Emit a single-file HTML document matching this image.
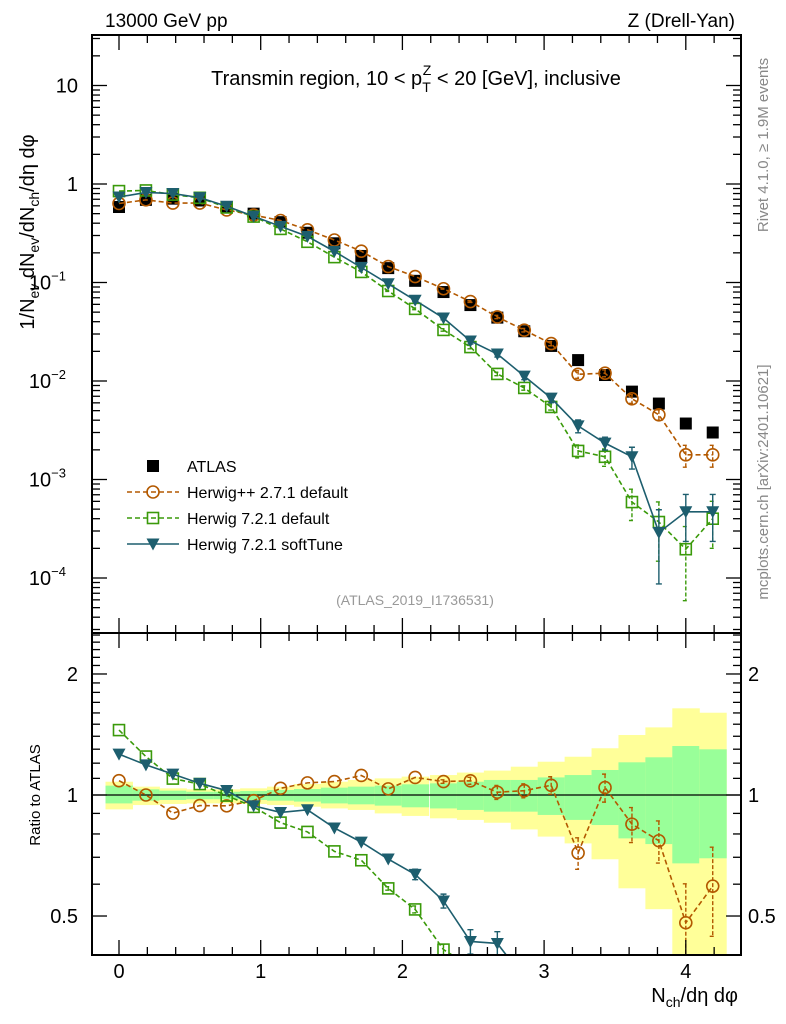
<!DOCTYPE html>
<html><head><meta charset="utf-8"><style>
html,body{margin:0;padding:0;background:#fff;overflow:hidden}
svg{display:block;font-family:"Liberation Sans",sans-serif}
</style></head><body>
<svg id="c" width="786" height="1024" viewBox="0 0 786 1024">
<defs>
<clipPath id="cm"><rect x="92" y="35" width="649" height="598"/></clipPath>
<clipPath id="cr"><rect x="92" y="633" width="649" height="322"/></clipPath>
</defs>
<g id="bands" clip-path="url(#cr)"></g>
<line x1="92" y1="795" x2="741" y2="795" stroke="#000" stroke-width="1.3"/>
<g id="mainMarks" clip-path="url(#cm)"></g>
<g id="ratioMarks" clip-path="url(#cr)"></g>
<rect x="92" y="35" width="649" height="598" fill="none" stroke="#000" stroke-width="2"/>
<rect x="92" y="633" width="649" height="322" fill="none" stroke="#000" stroke-width="2"/>
<g id="axes"></g>
<text x="105" y="27" font-size="19">13000 GeV pp</text>
<text x="735" y="27" font-size="19" text-anchor="end">Z (Drell-Yan)</text>
<text x="416" y="85" font-size="20" text-anchor="middle">Transmin region, 10 &lt; p<tspan font-size="14" dy="7">T</tspan><tspan font-size="14" dx="-8" dy="-17">Z</tspan><tspan dy="10"> &lt; 20 [GeV], inclusive</tspan></text>
<text x="415" y="605" font-size="14" fill="#999" text-anchor="middle">(ATLAS_2019_I1736531)</text>
<text transform="translate(34,232) rotate(-90)" font-size="20" text-anchor="middle">1/N<tspan font-size="14" dy="5">ev</tspan><tspan dy="-5"> dN</tspan><tspan font-size="14" dy="5">ev</tspan><tspan dy="-5">/dN</tspan><tspan font-size="14" dy="5">ch</tspan><tspan dy="-5">/dη dφ</tspan></text>
<text transform="translate(40,795) rotate(-90)" font-size="15" text-anchor="middle">Ratio to ATLAS</text>
<text x="738" y="1002" font-size="20" text-anchor="end">N<tspan font-size="14" dy="5">ch</tspan><tspan dy="-5">/dη dφ</tspan></text>
<text transform="translate(768,145) rotate(-90)" font-size="15" fill="#888" text-anchor="middle">Rivet 4.1.0, ≥ 1.9M events</text>
<text transform="translate(768,482) rotate(-90)" font-size="15" fill="#888" text-anchor="middle">mcplots.cern.ch [arXiv:2401.10621]</text>
<g id="legend"></g>
</svg>
<script>
const xVals=[0,0.19,0.38,0.57,0.76,0.95,1.14,1.33,1.52,1.71,1.9,2.09,2.29,2.48,2.67,2.86,3.05,3.24,3.43,3.62,3.81,4.0,4.19];
const atlas=[0.584,0.69,0.71,0.68,0.58,0.50,0.41,0.32,0.25,0.186,0.14,0.104,0.080,0.059,0.044,0.032,0.0227,0.0163,0.0115,0.0078,0.0059,0.0037,0.0030];
const herwigPP=[0.634,0.69,0.64,0.64,0.545,0.484,0.426,0.343,0.27,0.208,0.145,0.115,0.0864,0.064,0.0447,0.0328,0.0240,0.0117,0.0120,0.0066,0.00454,0.00178,0.00178];
const herwigPPErr=[0,0,0,0,0,0,0,0,0,0,0,0,0.01,0.02,0.04,0.04,0.05,0.09,0.08,0.10,0.12,0.25,0.25];
const herwig721=[0.847,0.86,0.78,0.724,0.578,0.467,0.35,0.259,0.181,0.128,0.082,0.054,0.033,0.0221,0.0118,0.0085,0.00545,0.00195,0.0017,0.00059,0.00037,0.000196,0.00040];
const herwig721Err=[0,0,0,0,0,0,0,0,0,0,0.01,0.02,0.03,0.04,0.04,0.05,0.07,0.15,0.2,0.35,0.6,0.7,0.5];
const softTune=[0.738,0.82,0.80,0.727,0.595,0.47,0.371,0.294,0.207,0.142,0.097,0.066,0.0436,0.0255,0.0188,0.0112,0.0067,0.0035,0.00234,0.0017,0.00029,0.00047,0.00047];
const softTuneErr=[0,0,0,0,0,0,0,0,0,0,0,0.03,0.04,0.07,0.07,0.08,0.1,0.15,0.15,0.25,0.7,0.5,0.5];
const yellowUp=[1.079,1.049,1.039,1.033,1.033,1.039,1.049,1.065,1.079,1.090,1.100,1.111,1.121,1.137,1.150,1.176,1.210,1.245,1.307,1.410,1.473,1.643,1.602];
const yellowDn=[0.921,0.944,0.950,0.953,0.953,0.950,0.944,0.935,0.926,0.918,0.900,0.887,0.875,0.867,0.853,0.821,0.788,0.758,0.692,0.586,0.520,0.30,0.30];
const greenUp=[1.055,1.033,1.025,1.019,1.019,1.023,1.029,1.035,1.043,1.049,1.055,1.063,1.069,1.079,1.090,1.090,1.106,1.121,1.154,1.206,1.241,1.324,1.299];
const greenDn=[0.953,0.968,0.972,0.976,0.976,0.972,0.968,0.963,0.953,0.948,0.941,0.932,0.926,0.918,0.909,0.909,0.892,0.867,0.842,0.780,0.755,0.676,0.696];
const mainTicks=[10,1,0.1,0.01,0.001,0.0001];
const mainTickLabels=["10","1","10","10","10","10"];
const mainTickExp=["","","−1","−2","−3","−4"];
const ratioTicks=[2,1,0.5];
const ratioTickLabels=["2","1","0.5"];
const xTicks=[0,1,2,3,4];
const xTickLabels=["0","1","2","3","4"];

const NS="http://www.w3.org/2000/svg";
const X=x=>119+x*141.7;
const YM=v=>184-Math.log10(v)*98.5;
const YR=r=>795-Math.log10(r)*402;
function mk(tag,attrs,parent){const e=document.createElementNS(NS,tag);for(const k in attrs)e.setAttribute(k,attrs[k]);parent.appendChild(e);return e;}
const bands=document.getElementById('bands'),mm=document.getElementById('mainMarks'),rm=document.getElementById('ratioMarks'),ax=document.getElementById('axes'),lg=document.getElementById('legend');
const hw=0.0952;
for(let i=0;i<xVals.length;i++){
  const x0=X(xVals[i]-hw),x1=X(xVals[i]+hw);
  const y=mk('rect',{x:x0,y:YR(yellowUp[i]),width:x1-x0+0.5,height:YR(yellowDn[i])-YR(yellowUp[i]),fill:'#ffff99'},bands);
  
  
  const g=mk('rect',{x:x0,y:YR(greenUp[i]),width:x1-x0+0.5,height:YR(greenDn[i])-YR(greenUp[i]),fill:'#99ff99'},bands);
  
  
}
function marker(type,cx,cy,color,parent){
  let e;
  if(type==='sq') e=mk('rect',{x:cx-6,y:cy-6,width:12,height:12,fill:'#000'},parent);
  else if(type==='osq') e=mk('rect',{x:cx-5.5,y:cy-5.5,width:11,height:11,fill:'none',stroke:color,'stroke-width':1.6},parent);
  else if(type==='circ') e=mk('circle',{cx:cx,cy:cy,r:6,fill:'none',stroke:color,'stroke-width':1.6},parent);
  else e=mk('path',{d:`M${cx-6.5},${cy-5.5}L${cx+6.5},${cy-5.5}L${cx},${cy+6.5}Z`,fill:color},parent);
  return e;
}
xVals.forEach((x,i)=>{
  const m=marker('sq',X(x),YM(atlas[i]),'#000',mm);
  
  
});
const series=[
 {vals:herwigPP,err:herwigPPErr,color:'#b35900',type:'circ',dash:'5,3',name:'herwigpp-271'},
 {vals:herwig721,err:herwig721Err,color:'#3a9a0a',type:'osq',dash:'5,3',name:'herwig-721-default'},
 {vals:softTune,err:softTuneErr,color:'#1d5e6e',type:'tri',dash:'',name:'herwig-721-softtune'}
];
for(const s of series){
  for(const [panel,Yf,getv] of [[mm,YM,(i)=>s.vals[i]],[rm,YR,(i)=>s.vals[i]/atlas[i]]]){
    let pts=xVals.map((x,i)=>X(x)+','+Yf(getv(i))).join(' ');
    const l=mk('polyline',{points:pts,fill:'none',stroke:s.color,'stroke-width':1.6},panel);
    if(s.dash)l.setAttribute('stroke-dasharray',s.dash);
    
    
    xVals.forEach((x,i)=>{
      const v=getv(i),e=s.err[i];
      if(e>0){
        const lo=Math.max(v*(1-e),v*0.05),hi=v*(1+e);
        const b=mk('path',{d:`M${X(x)},${Yf(hi)}V${Yf(lo)}M${X(x)-3},${Yf(hi)}h6M${X(x)-3},${Yf(lo)}h6`,stroke:s.color,'stroke-width':1.4,fill:'none'},panel);
        if(s.dash)b.setAttribute('stroke-dasharray','4,2');
        
        
      }
      const m=marker(s.type,X(x),Yf(v),s.color,panel);
      
      
    });
  }
}
function tick(x1,y1,x2,y2){const t=mk('line',{x1,y1,x2,y2,stroke:'#000','stroke-width':1.3},ax);}
for(let d=-5;d<=1;d++){
  for(let k=1;k<10;k++){
    const v=k*Math.pow(10,d),y=YM(v);
    if(y<36||y>632)continue;
    const len=k===1?14:7;
    tick(93,y,93+len,y);tick(740,y,740-len,y);
  }
}
mainTicks.forEach((v,i)=>{
  const t=mk('text',{x:mainTickExp[i]?66:78,y:YM(v)+7,'font-size':20,'text-anchor':'end'},ax);
  t.textContent=mainTickLabels[i];
  
  
  if(mainTickExp[i]){const s=mk('tspan',{'font-size':13,dy:-9},t);s.textContent=mainTickExp[i];}
});
for(let r=0.4;r<=2.55;r+=0.1){
  const v=Math.round(r*10)/10,y=YR(v);
  if(y<634||y>954)continue;
  const major=(v===0.5||v===1||v===2);
  const len=major?14:7;
  tick(93,y,93+len,y);tick(740,y,740-len,y);
}
ratioTicks.forEach((v,i)=>{
  const a=mk('text',{x:78,y:YR(v)+7,'font-size':20,'text-anchor':'end'},ax);
  a.textContent=ratioTickLabels[i];
  
  
  const b=mk('text',{x:748,y:YR(v)+7,'font-size':20},ax);
  b.textContent=ratioTickLabels[i];
  
  
});
for(let k=-1;k<=21;k++){
  const x=X(k*0.2);
  if(x<93||x>740)continue;
  const major=k%5===0,len=major?14:7;
  tick(x,632,x,632-len);tick(x,954,x,954-len);tick(x,36,x,36+len);tick(x,634,x,634+len);
}
xTicks.forEach((v,i)=>{
  const t=mk('text',{x:X(v),y:978,'font-size':20,'text-anchor':'middle'},ax);
  t.textContent=xTickLabels[i];
  
  
});
const leg=[{type:'sq',color:'#000',dash:null,label:'ATLAS'},
 {type:'circ',color:'#b35900',dash:'5,3',label:'Herwig++ 2.7.1 default'},
 {type:'osq',color:'#3a9a0a',dash:'5,3',label:'Herwig 7.2.1 default'},
 {type:'tri',color:'#1d5e6e',dash:'',label:'Herwig 7.2.1 softTune'}];
leg.forEach((e,i)=>{
  const y=466+i*26;
  const g=mk('g',{},lg);
  
  
  if(e.dash!==null){const l=mk('line',{x1:127,y1:y,x2:179,y2:y,stroke:e.color,'stroke-width':1.6},g);if(e.dash)l.setAttribute('stroke-dasharray',e.dash);}
  marker(e.type,153,y,e.color,g);
  const t=mk('text',{x:187,y:y+6,'font-size':16},g);
  t.textContent=e.label;
});
</script>
</body></html>
